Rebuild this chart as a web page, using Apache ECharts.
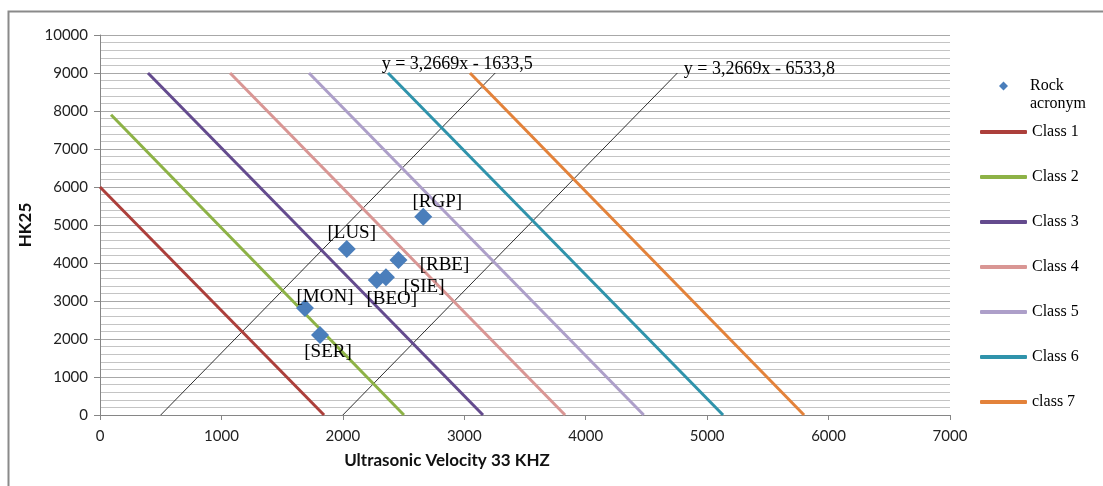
<!DOCTYPE html>
<html>
<head>
<meta charset="utf-8">
<script src="https://cdn.jsdelivr.net/npm/echarts@6/dist/echarts.min.js"></script>
<style>html,body{margin:0;padding:0;background:#fff}#c{width:1103px;height:486px}</style>
</head>
<body>
<div id="c"></div>
<script>
// ---- data ----
const classNames = ['Class 1', 'Class 2', 'Class 3', 'Class 4', 'Class 5', 'Class 6', 'class 7'];
const classStartX = [0, 91, 395, 1071, 1721, 2372, 3047];
const classStartY = [6000, 7900, 9000, 9000, 9000, 9000, 9000];
const classEndX = [1845, 2503, 3154, 3830, 4478, 5131, 5798];
const classEndY = [0, 0, 0, 0, 0, 0, 0];

const rockSeriesName = 'Rock acronym';
const rockNames = ['RGP', 'LUS', 'RBE', 'SIE', 'BEO', 'MON', 'SER'];
const rockX = [2662, 2032, 2458, 2355, 2279, 1688, 1812];
const rockY = [5218, 4368, 4079, 3624, 3553, 2816, 2105];

const trendLabels = ['y = 3,2669x - 1633,5', 'y = 3,2669x - 6533,8'];
const trendStartX = [500, 2000];
const trendStartY = [0, 0];
const trendEndX = [3255, 4755];
const trendEndY = [9000, 9000];

const xTicks = [0, 1000, 2000, 3000, 4000, 5000, 6000, 7000];
const yTicks = [0, 1000, 2000, 3000, 4000, 5000, 6000, 7000, 8000, 9000, 10000];

// ---- styles ----
const classColors = ['#AC3F3B', '#8DB246', '#644B8E', '#D99694', '#AD9FC9', '#2F93AB', '#E3823A'];
const rockLabelOffsets = {RGP: [14, -15], LUS: [5, -16], RBE: [46, 5], SIE: [38, 10], BEO: [15, 19], MON: [20, -11], SER: [8, 17]};
const trendLabelOffsets = [[-38, -9], [82, -4]];
const serif = '"Liberation Serif", "Times New Roman", serif';
const sans = 'Lato, Carlito, sans-serif';

const series = [];
trendLabels.forEach((t, i) => {
  series.push({
    name: 'trend' + i, type: 'line', silent: true,
    symbol: 'circle', symbolSize: 1, showSymbol: true,
    itemStyle: {color: 'rgba(0,0,0,0)'},
    lineStyle: {color: '#1a1a1a', width: 0.9},
    data: [
      [trendStartX[i], trendStartY[i]],
      {value: [trendEndX[i], trendEndY[i]], label: {show: true, formatter: t, position: 'inside', offset: trendLabelOffsets[i], color: '#000', fontFamily: serif, fontSize: 18}}
    ],
    z: 2
  });
});
classNames.forEach((n, i) => {
  series.push({
    name: n, type: 'line', showSymbol: false, symbol: 'none',
    lineStyle: {color: classColors[i], width: 3},
    itemStyle: {color: classColors[i]},
    data: [[classStartX[i], classStartY[i]], [classEndX[i], classEndY[i]]],
    z: 3
  });
});
series.push({
  name: rockSeriesName, type: 'scatter', symbol: 'diamond', symbolSize: 18,
  itemStyle: {color: '#4A7EBB', opacity: 1},
  data: rockNames.map((r, i) => ({
    value: [rockX[i], rockY[i]], name: r,
    label: {show: true, position: 'inside', offset: rockLabelOffsets[r], formatter: '[' + r + ']', color: '#000', fontFamily: serif, fontSize: 19}
  })),
  z: 5
});

const chart = echarts.init(document.getElementById('c'), null, {renderer: 'canvas'});
chart.setOption({
  animation: false,
  backgroundColor: '#fff',
  grid: {left: 100, right: 153, top: 35, bottom: 71, containLabel: false},
  xAxis: {
    type: 'value', min: xTicks[0], max: xTicks[xTicks.length - 1], interval: 1000,
    name: 'Ultrasonic Velocity 33 KHZ', nameLocation: 'middle', nameGap: 37,
    nameTextStyle: {fontFamily: sans, fontWeight: 'bold', fontSize: 17, color: '#111', padding: [0, 156, 0, 0]},
    axisLine: {show: true, lineStyle: {color: '#868686', width: 1}},
    axisTick: {show: true, length: 5, lineStyle: {color: '#868686'}},
    axisLabel: {fontFamily: sans, fontSize: 15, color: '#222', margin: 14, formatter: v => String(v)},
    splitLine: {show: false}
  },
  yAxis: {
    type: 'value', min: yTicks[0], max: yTicks[yTicks.length - 1], interval: 1000,
    name: 'HK25', nameLocation: 'middle', nameGap: 61, nameRotate: 90,
    nameTextStyle: {fontFamily: sans, fontWeight: 'bold', fontSize: 17, color: '#111'},
    axisLine: {show: true, lineStyle: {color: '#868686', width: 1}},
    axisTick: {show: true, length: 6, lineStyle: {color: '#868686'}},
    axisLabel: {fontFamily: sans, fontSize: 15, color: '#222', margin: 12, formatter: v => String(v)},
    splitLine: {show: true, lineStyle: {color: '#a8a8a8', width: 1}},
    minorTick: {show: false, splitNumber: 5},
    minorSplitLine: {show: true, lineStyle: {color: '#c4c4c4', width: 1}}
  },
  legend: [
    {
      data: [rockSeriesName], orient: 'vertical', left: 999, top: 59, padding: 0,
      itemWidth: 9, itemHeight: 9, icon: 'diamond',
      formatter: () => '\nRock\nacronym',
      textStyle: {fontFamily: serif, fontSize: 16, color: '#000', lineHeight: 18, padding: [0, 0, 0, 17]},
      selectedMode: false
    },
    {
      data: classNames, orient: 'vertical', left: 980, top: 123, padding: 0,
      itemWidth: 47, itemHeight: 4, itemGap: 27, icon: 'roundRect',
      textStyle: {fontFamily: serif, fontSize: 16, color: '#000', lineHeight: 18},
      selectedMode: false
    }
  ],
  graphic: [{
    type: 'rect', silent: true, z: -1,
    shape: {x: 8.5, y: 11.5, width: 1200, height: 600},
    style: {fill: 'none', stroke: '#8a8a8a', lineWidth: 2}
  }],
  series: series
});
</script>
</body>
</html>
